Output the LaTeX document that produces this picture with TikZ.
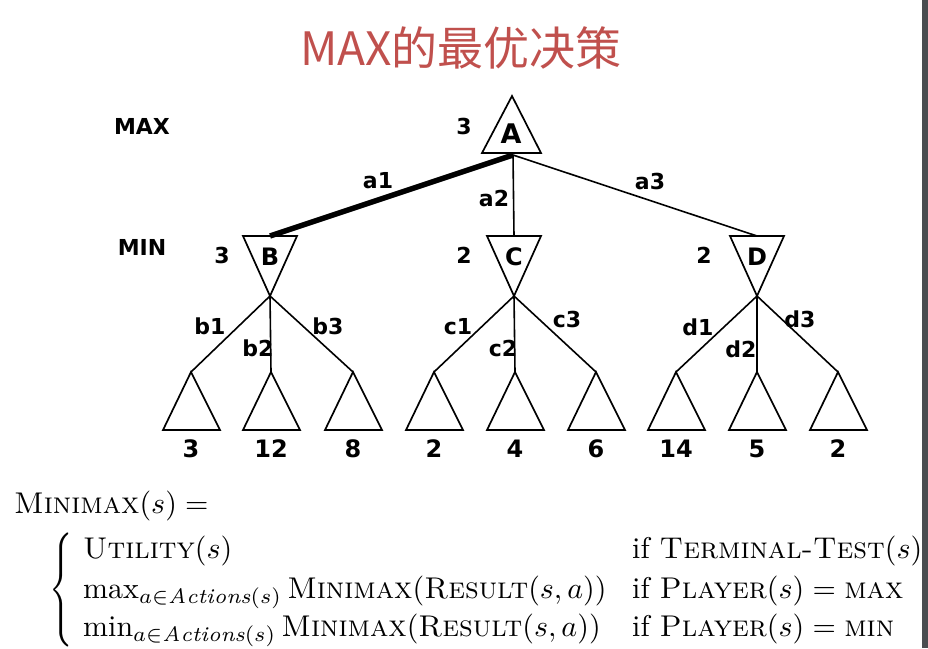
\documentclass[tikz,border=0pt]{standalone}
\usepackage{fontspec}
\usepackage{graphicx}
\newfontfamily\cjkfont{Noto Sans CJK SC}
\newfontfamily\treefont{DejaVu Sans}
\definecolor{titlered}{HTML}{C0504D}
\definecolor{stripgray}{HTML}{4A4D50}
\newcommand{\fml}[1]{\scalebox{3.0}[3.0]{#1}}
\tikzset{
  tri/.style={draw, line width=1.7pt, line join=miter},
  edge/.style={line width=1.6pt},
  best/.style={line width=5.5pt},
  big/.style={font=\treefont\bfseries\fontsize{27}{30}\selectfont, inner sep=0pt},
  mid/.style={font=\treefont\bfseries\fontsize{24}{27}\selectfont, inner sep=0pt},
  small/.style={font=\treefont\bfseries\fontsize{22}{25}\selectfont, inner sep=0pt},
  formula/.style={font=\fontsize{10}{12}\selectfont, inner sep=0pt, anchor=base west},
}
\begin{document}
\begin{tikzpicture}[x=1pt,y=-1pt]
  \useasboundingbox (0,0) rectangle (928,648);
  \fill[stripgray] (922,0) rectangle (928,648);
  \node[text=titlered, font=\cjkfont\fontsize{46}{50}\selectfont, inner sep=0pt] (title) at (461,48) {MAX的最优决策};

  % levels
  \node[small] (maxlab) at (142,126) {MAX};
  \node[small] (minlab) at (142,247) {MIN};

  % root
  \draw[tri] (482,153) -- (512,96) -- (541,153) -- cycle;
  \node[big] (A) at (511,134) {A};
  \node[small] (vA) at (464,126) {3};
  \coordinate (Abot) at (513,155);

  % min nodes
  \foreach \n/\x/\v/\vx in {B/270/3/222, C/514/2/464, D/757/2/704}{
    \draw[tri] (\x-27,236) -- (\x+27,236) -- (\x,296) -- cycle;
    \node[mid] (\n) at (\x,257) {\n};
    \node[small] (v\n) at (\vx,255) {\v};
    \coordinate (\n top) at (\x,236);
    \coordinate (\n bot) at (\x,296);
  }

  \draw[best] (Abot) -- (Btop);
  \draw[edge] (Abot) -- (Ctop);
  \draw[edge] (Abot) -- (Dtop);
  \node[small] (a1) at (378,181) {a1};
  \node[small] (a2) at (494,198) {a2};
  \node[small] (a3) at (650,181) {a3};

  % leaves
  \foreach \p/\x/\v/\lab/\lx/\ly in {
      B/191/3/b1/210/326, B/271/12/b2/258/348, B/353/8/b3/328/326,
      C/434/2/c1/458/327, C/515/4/c2/503/348, C/596/6/c3/567/319,
      D/676/14/d1/698/327, D/757/5/d2/741/349, D/838/2/d3/800/319}{
    \draw[tri] (\x,372) -- (\x+29,430) -- (\x-28,430) -- cycle;
    \coordinate (\lab top) at (\x,372);
    \draw[edge] (\p bot) -- (\lab top);
    \node[small] (\lab) at (\lx,\ly) {\lab};
    \node[mid] (\lab val) at (\x,449) {\v};
  }

  % minimax definition
  \node[formula] (mm) at (14,513) {\fml{$\textsc{Minimax}(s) =$}};
  \node[font=\fontsize{10}{12}\selectfont, inner sep=0pt] (brace) at (61,590)
    {\scalebox{2.9}[3.8]{$\Biggl\{$}};
  \node[formula] (l1) at (83,558) {\fml{$\textsc{Utility}(s)$}};
  \node[formula] (l2) at (83,598) {\fml{$\max_{a\in \mathit{Actions}(s)} \textsc{Minimax}(\textsc{Result}(s,a))$}};
  \node[formula] (l3) at (83,636) {\fml{$\min_{a\in \mathit{Actions}(s)} \textsc{Minimax}(\textsc{Result}(s,a))$}};
  \node[formula] (r1) at (632,558) {\fml{if $\textsc{Terminal-Test}(s)$}};
  \node[formula] (r2) at (632,598) {\fml{if $\textsc{Player}(s) = \textsc{max}$}};
  \node[formula] (r3) at (632,636) {\fml{if $\textsc{Player}(s) = \textsc{min}$}};
\end{tikzpicture}
\end{document}
